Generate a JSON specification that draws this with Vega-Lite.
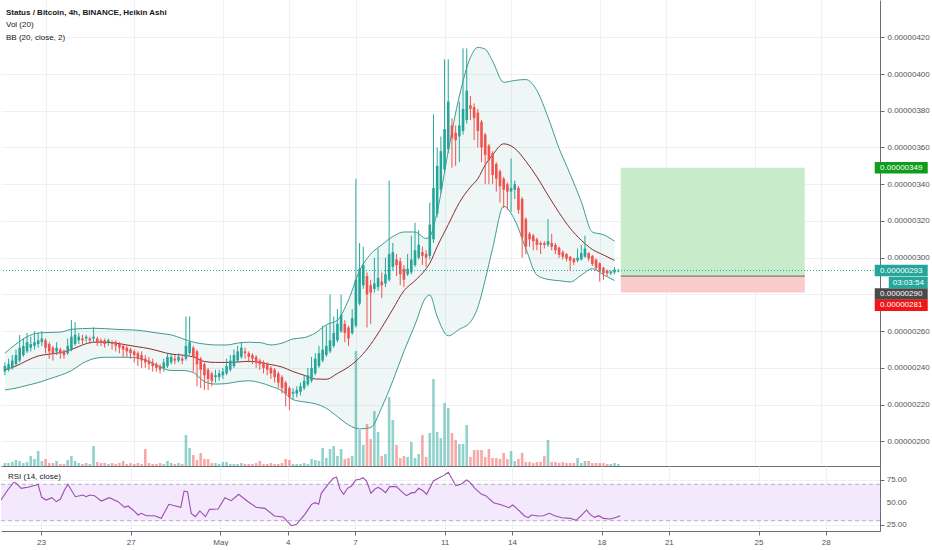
{
"$schema":"https://vega.github.io/schema/vega-lite/v6.json",
"padding":0,"spacing":0,"background":"white",
"config":{"view":{"stroke":null},"font":"Liberation Sans",
"axis":{"labelFont":"Liberation Sans","labelFontSize":8,"labelColor":"#50535e","gridColor":"#eef0f3","domainColor":"#6a6d78","tickColor":"#6a6d78","tickSize":4,"labelPadding":3,"labelOverlap":false},
"title":{"font":"Liberation Sans","subtitleFont":"Liberation Sans"}},
"datasets":{
"candles":[
{"i":1,"o":238,"h":243,"l":236,"c":241,"v":3},{"i":2,"o":239,"h":245,"l":238,"c":242,"v":3},{"i":3,"o":240,"h":247,"l":239,"c":244,"v":4},{"i":4,"o":242,"h":250,"l":241,"c":247,"v":6},{"i":5,"o":244,"h":258,"l":243,"c":251,"v":5},{"i":6,"o":247,"h":256,"l":246,"c":252,"v":3},{"i":7,"o":249,"h":259,"l":248,"c":254,"v":4},{"i":8,"o":251,"h":257,"l":249,"c":253,"v":10},{"i":9,"o":252,"h":260,"l":250,"c":254,"v":7},{"i":10,"o":253,"h":259,"l":251,"c":255,"v":15},
{"i":11,"o":254,"h":260,"l":252,"c":256,"v":5},{"i":12,"o":255,"h":256,"l":248,"c":251,"v":7},{"i":13,"o":253,"h":254,"l":245,"c":249,"v":3},{"i":14,"o":251,"h":252,"l":244,"c":248,"v":3},{"i":15,"o":249,"h":254,"l":247,"c":251,"v":5},{"i":16,"o":250,"h":251,"l":245,"c":248,"v":2},{"i":17,"o":249,"h":250,"l":245,"c":247,"v":2},{"i":18,"o":248,"h":256,"l":247,"c":252,"v":6},{"i":19,"o":250,"h":266,"l":249,"c":257,"v":10},{"i":20,"o":253,"h":265,"l":252,"c":258,"v":5},
{"i":21,"o":255,"h":259,"l":253,"c":257,"v":3},{"i":22,"o":256,"h":258,"l":253,"c":255,"v":2},{"i":23,"o":256,"h":258,"l":254,"c":257,"v":3},{"i":24,"o":256,"h":257,"l":253,"c":255,"v":2},{"i":25,"o":256,"h":262,"l":254,"c":257,"v":20},{"i":26,"o":256,"h":257,"l":252,"c":254,"v":4},{"i":27,"o":255,"h":256,"l":252,"c":254,"v":3},{"i":28,"o":255,"h":256,"l":251,"c":253,"v":3},{"i":29,"o":254,"h":256,"l":252,"c":255,"v":2},{"i":30,"o":254,"h":255,"l":250,"c":253,"v":3},
{"i":31,"o":254,"h":255,"l":249,"c":252,"v":2},{"i":32,"o":253,"h":254,"l":248,"c":251,"v":3},{"i":33,"o":252,"h":253,"l":246,"c":250,"v":5},{"i":34,"o":251,"h":252,"l":246,"c":249,"v":2},{"i":35,"o":250,"h":251,"l":245,"c":248,"v":3},{"i":36,"o":249,"h":250,"l":243,"c":247,"v":2},{"i":37,"o":248,"h":249,"l":241,"c":245,"v":3},{"i":38,"o":247,"h":249,"l":240,"c":244,"v":2},{"i":39,"o":245,"h":247,"l":240,"c":243,"v":17},{"i":40,"o":244,"h":246,"l":239,"c":242,"v":3},
{"i":41,"o":243,"h":245,"l":238,"c":241,"v":2},{"i":42,"o":242,"h":243,"l":238,"c":240,"v":2},{"i":43,"o":241,"h":242,"l":237,"c":239,"v":3},{"i":44,"o":240,"h":245,"l":238,"c":243,"v":2},{"i":45,"o":241,"h":248,"l":240,"c":246,"v":5},{"i":46,"o":243,"h":248,"l":242,"c":246,"v":3},{"i":47,"o":245,"h":247,"l":242,"c":244,"v":2},{"i":48,"o":244,"h":248,"l":243,"c":246,"v":3},{"i":49,"o":245,"h":247,"l":242,"c":244,"v":2},{"i":50,"o":245,"h":268,"l":244,"c":252,"v":31},
{"i":51,"o":248,"h":268,"l":247,"c":254,"v":18},{"i":52,"o":251,"h":252,"l":238,"c":246,"v":11},{"i":53,"o":249,"h":250,"l":230,"c":242,"v":6},{"i":54,"o":245,"h":246,"l":229,"c":239,"v":13},{"i":55,"o":242,"h":243,"l":228,"c":236,"v":7},{"i":56,"o":239,"h":240,"l":228,"c":234,"v":7},{"i":57,"o":237,"h":238,"l":230,"c":233,"v":3},{"i":58,"o":235,"h":239,"l":232,"c":236,"v":3},{"i":59,"o":235,"h":239,"l":233,"c":237,"v":2},{"i":60,"o":236,"h":240,"l":234,"c":238,"v":4},
{"i":61,"o":237,"h":245,"l":236,"c":241,"v":4},{"i":62,"o":239,"h":247,"l":238,"c":244,"v":2},{"i":63,"o":241,"h":250,"l":240,"c":247,"v":2},{"i":64,"o":244,"h":252,"l":243,"c":249,"v":2},{"i":65,"o":246,"h":254,"l":245,"c":251,"v":3},{"i":66,"o":249,"h":251,"l":245,"c":248,"v":2},{"i":67,"o":248,"h":249,"l":243,"c":246,"v":2},{"i":68,"o":247,"h":248,"l":242,"c":245,"v":2},{"i":69,"o":246,"h":247,"l":240,"c":243,"v":3},{"i":70,"o":244,"h":245,"l":239,"c":242,"v":5},
{"i":71,"o":243,"h":244,"l":237,"c":240,"v":2},{"i":72,"o":242,"h":243,"l":236,"c":239,"v":2},{"i":73,"o":240,"h":241,"l":234,"c":237,"v":3},{"i":74,"o":239,"h":240,"l":232,"c":235,"v":2},{"i":75,"o":237,"h":238,"l":229,"c":232,"v":2},{"i":76,"o":235,"h":236,"l":226,"c":229,"v":3},{"i":77,"o":232,"h":233,"l":219,"c":226,"v":7},{"i":78,"o":229,"h":230,"l":217,"c":224,"v":6},{"i":79,"o":226,"h":229,"l":223,"c":227,"v":2},{"i":80,"o":226,"h":230,"l":224,"c":228,"v":2},
{"i":81,"o":227,"h":232,"l":225,"c":230,"v":2},{"i":82,"o":229,"h":236,"l":228,"c":233,"v":3},{"i":83,"o":231,"h":240,"l":230,"c":236,"v":2},{"i":84,"o":233,"h":246,"l":232,"c":240,"v":7},{"i":85,"o":237,"h":248,"l":236,"c":245,"v":6},{"i":86,"o":241,"h":252,"l":240,"c":248,"v":5},{"i":87,"o":244,"h":263,"l":243,"c":250,"v":18},{"i":88,"o":247,"h":263,"l":246,"c":252,"v":8},{"i":89,"o":249,"h":280,"l":248,"c":255,"v":17},{"i":90,"o":252,"h":268,"l":251,"c":259,"v":20},
{"i":91,"o":255,"h":272,"l":254,"c":264,"v":10},{"i":92,"o":260,"h":280,"l":259,"c":269,"v":17},{"i":93,"o":264,"h":266,"l":254,"c":259,"v":7},{"i":94,"o":262,"h":263,"l":252,"c":256,"v":8},{"i":95,"o":259,"h":272,"l":258,"c":267,"v":10},{"i":96,"o":263,"h":343,"l":262,"c":288,"v":115},{"i":97,"o":275,"h":308,"l":274,"c":294,"v":36},{"i":98,"o":285,"h":306,"l":283,"c":296,"v":21},{"i":99,"o":290,"h":292,"l":262,"c":280,"v":42},{"i":100,"o":285,"h":288,"l":264,"c":281,"v":27},
{"i":101,"o":283,"h":300,"l":281,"c":286,"v":55},{"i":102,"o":284,"h":305,"l":282,"c":289,"v":34},{"i":103,"o":287,"h":292,"l":278,"c":285,"v":10},{"i":104,"o":286,"h":300,"l":284,"c":291,"v":12},{"i":105,"o":288,"h":342,"l":287,"c":302,"v":69},{"i":106,"o":295,"h":308,"l":293,"c":303,"v":46},{"i":107,"o":299,"h":302,"l":290,"c":296,"v":21},{"i":108,"o":298,"h":300,"l":285,"c":291,"v":8},{"i":109,"o":294,"h":296,"l":284,"c":288,"v":10},{"i":110,"o":291,"h":302,"l":290,"c":294,"v":9},
{"i":111,"o":292,"h":312,"l":291,"c":299,"v":24},{"i":112,"o":296,"h":319,"l":295,"c":304,"v":8},{"i":113,"o":300,"h":315,"l":299,"c":307,"v":12},{"i":114,"o":303,"h":306,"l":296,"c":301,"v":31},{"i":115,"o":302,"h":304,"l":295,"c":300,"v":9},{"i":116,"o":301,"h":330,"l":299,"c":318,"v":33},{"i":117,"o":310,"h":378,"l":308,"c":338,"v":87},{"i":118,"o":324,"h":360,"l":322,"c":350,"v":34},{"i":119,"o":337,"h":366,"l":335,"c":358,"v":28},{"i":120,"o":348,"h":408,"l":346,"c":370,"v":63},
{"i":121,"o":359,"h":408,"l":357,"c":385,"v":58},{"i":122,"o":372,"h":376,"l":349,"c":365,"v":33},{"i":123,"o":368,"h":372,"l":350,"c":364,"v":26},{"i":124,"o":366,"h":385,"l":352,"c":372,"v":22},{"i":125,"o":369,"h":414,"l":367,"c":381,"v":22},{"i":126,"o":375,"h":414,"l":373,"c":391,"v":41},{"i":127,"o":383,"h":388,"l":375,"c":381,"v":9},{"i":128,"o":382,"h":384,"l":364,"c":376,"v":16},{"i":129,"o":379,"h":381,"l":360,"c":369,"v":16},{"i":130,"o":374,"h":375,"l":352,"c":360,"v":16},
{"i":131,"o":367,"h":368,"l":340,"c":356,"v":9},{"i":132,"o":361,"h":362,"l":340,"c":353,"v":17},{"i":133,"o":357,"h":358,"l":340,"c":345,"v":8},{"i":134,"o":351,"h":352,"l":336,"c":343,"v":8},{"i":135,"o":347,"h":348,"l":330,"c":339,"v":7},{"i":136,"o":343,"h":344,"l":327,"c":337,"v":13},{"i":137,"o":340,"h":341,"l":326,"c":336,"v":7},{"i":138,"o":336,"h":354,"l":325,"c":338,"v":15},{"i":139,"o":337,"h":342,"l":332,"c":340,"v":5},{"i":140,"o":338,"h":339,"l":324,"c":326,"v":7},
{"i":141,"o":332,"h":333,"l":300,"c":311,"v":13},{"i":142,"o":321,"h":322,"l":302,"c":306,"v":4},{"i":143,"o":313,"h":314,"l":306,"c":310,"v":4},{"i":144,"o":312,"h":313,"l":304,"c":309,"v":3},{"i":145,"o":310,"h":311,"l":304,"c":307,"v":4},{"i":146,"o":308,"h":309,"l":302,"c":307,"v":4},{"i":147,"o":308,"h":309,"l":305,"c":307,"v":10},{"i":148,"o":307,"h":321,"l":306,"c":309,"v":26},{"i":149,"o":308,"h":313,"l":304,"c":306,"v":4},{"i":150,"o":307,"h":308,"l":302,"c":304,"v":4},
{"i":151,"o":305.5,"h":306,"l":300,"c":301.5,"v":3},{"i":152,"o":303,"h":304,"l":299,"c":300.5,"v":4},{"i":153,"o":302,"h":302.5,"l":298,"c":299.5,"v":3},{"i":154,"o":300.5,"h":301,"l":293,"c":298.5,"v":3},{"i":155,"o":299.5,"h":300,"l":296,"c":297.5,"v":3},{"i":156,"o":298.5,"h":305,"l":297.5,"c":300,"v":8},{"i":157,"o":299,"h":307,"l":298.5,"c":302.5,"v":3},{"i":158,"o":300.5,"h":312,"l":300,"c":305,"v":5},{"i":159,"o":302.5,"h":303,"l":298,"c":299.5,"v":5},{"i":160,"o":301,"h":301.5,"l":295.5,"c":296.5,"v":3},
{"i":161,"o":299,"h":299.5,"l":293,"c":294.5,"v":3},{"i":162,"o":297,"h":297.5,"l":287,"c":292.5,"v":3},{"i":163,"o":294.5,"h":295,"l":288,"c":291.5,"v":3},{"i":164,"o":293,"h":293.5,"l":290,"c":291.5,"v":2},{"i":165,"o":291.5,"h":293,"l":290.5,"c":292.5,"v":2},{"i":166,"o":292,"h":295,"l":291,"c":293.5,"v":3},{"i":167,"o":292.5,"h":294,"l":292,"c":293,"v":2}
],
"bb":[
{"i":1,"u":248,"m":239,"b":228},{"i":4,"u":253,"m":241,"b":229},{"i":7,"u":257,"m":244,"b":230.5},{"i":10,"u":259,"m":246.5,"b":232},{"i":13,"u":259.3,"m":247.5,"b":234},{"i":16,"u":259.5,"m":248.3,"b":236},{"i":19,"u":261,"m":250,"b":238.5},{"i":22,"u":261.4,"m":252.5,"b":242.5},{"i":25,"u":261.6,"m":254,"b":245},{"i":28,"u":261.4,"m":254,"b":245.8},
{"i":31,"u":261,"m":253.5,"b":245.8},{"i":34,"u":260.8,"m":252.5,"b":245.8},{"i":37,"u":260.5,"m":251.5,"b":245.3},{"i":40,"u":259.7,"m":250.5,"b":243.5},{"i":43,"u":258.8,"m":249,"b":240.5},{"i":46,"u":258,"m":247.5,"b":238.6},{"i":49,"u":256,"m":247,"b":238.6},{"i":52,"u":254,"m":246,"b":237.5},{"i":55,"u":253,"m":243.5,"b":232.5},{"i":58,"u":252.5,"m":243,"b":231.2},
{"i":61,"u":252.5,"m":243,"b":231.5},{"i":64,"u":253.5,"m":243.2,"b":232.5},{"i":67,"u":254,"m":243.6,"b":233},{"i":70,"u":253.8,"m":243,"b":232},{"i":73,"u":252.5,"m":241.8,"b":230},{"i":76,"u":253.5,"m":240.5,"b":227.5},{"i":79,"u":255.8,"m":238,"b":222.7},{"i":82,"u":256.5,"m":236,"b":221.5},{"i":85,"u":259,"m":234,"b":220.5},{"i":88,"u":263.5,"m":233.8,"b":218},
{"i":91,"u":266,"m":237,"b":213.5},{"i":94,"u":277,"m":240.5,"b":209},{"i":97,"u":293,"m":245.6,"b":206.8},{"i":100,"u":302,"m":252.8,"b":207.5},{"i":103,"u":307,"m":262,"b":218.5},{"i":106,"u":311.5,"m":272,"b":233},{"i":109,"u":314,"m":282,"b":249},{"i":112,"u":314,"m":287.5,"b":263.5},{"i":115,"u":310.5,"m":294,"b":278.5},{"i":116,"u":311.5,"m":297,"b":279.7},
{"i":118,"u":325,"m":306,"b":268},{"i":121,"u":358,"m":318,"b":257.5},{"i":124,"u":388,"m":330,"b":261},{"i":127,"u":409,"m":338.5,"b":265},{"i":129,"u":414.5,"m":343,"b":273},{"i":131,"u":413.5,"m":350.5,"b":288},{"i":133,"u":407,"m":356,"b":305},{"i":136,"u":395.5,"m":362,"b":328},{"i":139,"u":396.5,"m":359.5,"b":320.5},{"i":142,"u":397,"m":352.5,"b":305},
{"i":145,"u":391,"m":344,"b":290.5},{"i":148,"u":376.5,"m":334,"b":288.2},{"i":151,"u":359.5,"m":324.5,"b":287.5},{"i":154,"u":345.5,"m":316,"b":286.8},{"i":157,"u":330.5,"m":309.5,"b":290.5},{"i":160,"u":314,"m":304.5,"b":294},{"i":163,"u":312.5,"m":301.5,"b":290.7},{"i":166,"u":309,"m":298.5,"b":287.6}
],
"rsi":[
{"i":1.3,"r":52.7},{"i":3.1,"r":63.7},{"i":4.7,"r":72.2},{"i":5.4,"r":71},{"i":6.7,"r":65.6},{"i":8.5,"r":66.7},{"i":10.7,"r":69.2},{"i":11.2,"r":70},{"i":12.2,"r":55.7},{"i":13.4,"r":52.7},{"i":14.9,"r":55.3},{"i":16.1,"r":50.9},{"i":17.2,"r":53.8},{"i":18.3,"r":63.7},{"i":19.2,"r":70},{"i":20.1,"r":63.7},{"i":21.2,"r":56.4},{"i":23.2,"r":58.2},{"i":24.1,"r":56.4},{"i":25,"r":58.2},
{"i":26.3,"r":57.5},{"i":28.1,"r":51.6},{"i":30.3,"r":55.3},{"i":32.6,"r":50.9},{"i":34.4,"r":44.7},{"i":35.3,"r":46.2},{"i":36.6,"r":41.8},{"i":38,"r":36.3},{"i":38.8,"r":38.1},{"i":40.2,"r":35.5},{"i":42.4,"r":35.5},{"i":44.2,"r":32.6},{"i":46.2,"r":48},{"i":47.8,"r":46.5},{"i":49.4,"r":44.7},{"i":50.3,"r":62.6},{"i":51.2,"r":61.9},{"i":52.2,"r":38.1},{"i":53.3,"r":34.4},{"i":54.5,"r":40.7},
{"i":56,"r":34.4},{"i":57.1,"r":42.5},{"i":59.4,"r":42.9},{"i":61.2,"r":55.3},{"i":62.9,"r":52},{"i":64.9,"r":59},{"i":67.4,"r":50.9},{"i":69.6,"r":44.7},{"i":71.9,"r":43.6},{"i":74.5,"r":35.2},{"i":76.8,"r":34.1},{"i":79,"r":24.5},{"i":80.4,"r":26},{"i":82.6,"r":37},{"i":84.4,"r":48},{"i":85.4,"r":49.8},{"i":86.3,"r":48},{"i":87,"r":60.1},{"i":88.8,"r":70},{"i":90.2,"r":76.6},
{"i":91.1,"r":77.7},{"i":92,"r":64.5},{"i":93,"r":59},{"i":94,"r":65.6},{"i":95.1,"r":68.1},{"i":96.2,"r":74.7},{"i":97.3,"r":75.5},{"i":98.2,"r":77.3},{"i":99.1,"r":73.6},{"i":100.3,"r":60.1},{"i":101.3,"r":64.5},{"i":102.2,"r":66.7},{"i":103.1,"r":64.5},{"i":104.2,"r":60.8},{"i":105.3,"r":67.4},{"i":107.1,"r":67.4},{"i":108.5,"r":61.9},{"i":109.8,"r":57.5},{"i":111.2,"r":60.8},{"i":112,"r":60.8},
{"i":113.1,"r":65.6},{"i":114.3,"r":62.6},{"i":115.2,"r":59},{"i":117,"r":73.6},{"i":118.3,"r":76.6},{"i":119.7,"r":79.5},{"i":121,"r":83.2},{"i":123,"r":68.5},{"i":124.4,"r":70},{"i":125.9,"r":74.7},{"i":126.8,"r":72.2},{"i":128.1,"r":65.6},{"i":129.9,"r":59},{"i":131,"r":57.5},{"i":133.1,"r":49.8},{"i":135.3,"r":47.3},{"i":137.2,"r":44.3},{"i":138.2,"r":47.3},{"i":139.3,"r":43.6},{"i":141.4,"r":35.2},
{"i":142.4,"r":33.3},{"i":143.3,"r":36.3},{"i":144.9,"r":35.2},{"i":146.4,"r":35.5},{"i":148,"r":38.1},{"i":149.5,"r":35.5},{"i":151.3,"r":33.3},{"i":153.6,"r":32.6},{"i":155.2,"r":30.4},{"i":156.7,"r":36.3},{"i":158,"r":41.8},{"i":158.9,"r":37},{"i":160.1,"r":33.7},{"i":161.2,"r":35.5},{"i":162.5,"r":32.6},{"i":164.3,"r":31.9},{"i":165.6,"r":33.3},{"i":167,"r":35.5}
],
"pos":[{"kind":"profit","i":167.7,"i2":217.5,"lo":290,"hi":349},{"kind":"loss","i":167.7,"i2":217.5,"lo":281,"hi":290}],
"tags":[{"tag":"target","p":349,"label":"0.00000349"},{"tag":"last","p":293,"label":"0.00000293"},{"tag":"timer","p":293,"label":"03:03:54"},{"tag":"entry","p":290,"label":"0.00000290"},{"tag":"stop","p":281,"label":"0.00000281"}],
"levels":[{"lo":30,"hi":70}],
"rsiTicks":[{"r":25},{"r":50},{"r":75}]
},
"vconcat":[
{"width":879,"height":466,
"title":{"text":"Status / Bitcoin, 4h, BINANCE, Heikin Ashi","subtitle":["Vol (20)","BB (20, close, 2)"],"anchor":"start","frame":"group","offset":-42,"dx":5,"fontSize":8,"fontWeight":"bold","color":"#131722","subtitleFontSize":8,"subtitleColor":"#131722","subtitleLineHeight":13,"subtitlePadding":4},
"layer":[
{"data":{"name":"candles"},"mark":{"type":"bar","size":2.6,"opacity":0.5,"clip":true},
"encoding":{"x":{"field":"i","type":"quantitative","scale":{"domain":[1.3,236.5],"nice":false,"zero":false},"axis":{"orient":"bottom","values":[12,36,60,78,96,120,138,162,180,204,222],"labels":false,"ticks":false,"domain":true,"grid":true,"title":null}},
"y":{"field":"v","type":"quantitative","scale":{"domain":[0,466],"nice":false},"axis":null},
"color":{"condition":{"test":"datum.c >= datum.o","value":"#26a69a"},"value":"#ef5350"}}},
{"layer":[
{"data":{"name":"bb"},"mark":{"type":"area","interpolate":"monotone","color":"#1f8f85","opacity":0.07,"clip":true},
"encoding":{"x":{"field":"i","type":"quantitative","scale":{"domain":[1.3,236.5],"nice":false,"zero":false}},
"y":{"field":"u","type":"quantitative","scale":{"domain":[186.6,440.3],"nice":false,"zero":false},"axis":{"orient":"right","values":[200,220,240,260,280,300,320,340,360,380,400,420],"labelExpr":"datum.value == 280 ? '' : format(datum.value/100000000, '.8f')","grid":true,"domain":true,"title":null}},
"y2":{"field":"b"}}},
{"data":{"name":"pos"},"mark":{"type":"rect"},
"encoding":{"x":{"field":"i","type":"quantitative","scale":{"domain":[1.3,236.5],"nice":false,"zero":false}},"x2":{"field":"i2"},
"y":{"field":"lo","type":"quantitative","scale":{"domain":[186.6,440.3],"nice":false,"zero":false}},"y2":{"field":"hi"},
"color":{"condition":{"test":"datum.kind == 'profit'","value":"#c8ebc9"},"value":"#fbcacb"}}},
{"data":{"name":"pos"},"transform":[{"filter":"datum.kind == 'profit'"}],"mark":{"type":"rule","color":"#787b86","strokeWidth":1.2},
"encoding":{"x":{"field":"i","type":"quantitative","scale":{"domain":[1.3,236.5],"nice":false,"zero":false}},"x2":{"field":"i2"},
"y":{"field":"lo","type":"quantitative","scale":{"domain":[186.6,440.3],"nice":false,"zero":false}}}},
{"data":{"name":"bb"},"mark":{"type":"line","interpolate":"monotone","color":"#3d9c8f","strokeWidth":1,"clip":true},
"encoding":{"x":{"field":"i","type":"quantitative","scale":{"domain":[1.3,236.5],"nice":false,"zero":false}},"y":{"field":"u","type":"quantitative","scale":{"domain":[186.6,440.3],"nice":false,"zero":false}}}},
{"data":{"name":"bb"},"mark":{"type":"line","interpolate":"monotone","color":"#3d9c8f","strokeWidth":1,"clip":true},
"encoding":{"x":{"field":"i","type":"quantitative","scale":{"domain":[1.3,236.5],"nice":false,"zero":false}},"y":{"field":"b","type":"quantitative","scale":{"domain":[186.6,440.3],"nice":false,"zero":false}}}},
{"data":{"name":"bb"},"mark":{"type":"line","interpolate":"monotone","color":"#8d2b2b","strokeWidth":1,"clip":true},
"encoding":{"x":{"field":"i","type":"quantitative","scale":{"domain":[1.3,236.5],"nice":false,"zero":false}},"y":{"field":"m","type":"quantitative","scale":{"domain":[186.6,440.3],"nice":false,"zero":false}}}},
{"data":{"name":"candles"},"mark":{"type":"rule","strokeWidth":1,"clip":true},
"encoding":{"x":{"field":"i","type":"quantitative","scale":{"domain":[1.3,236.5],"nice":false,"zero":false}},
"y":{"field":"l","type":"quantitative","scale":{"domain":[186.6,440.3],"nice":false,"zero":false}},"y2":{"field":"h"},
"color":{"condition":{"test":"datum.c >= datum.o","value":"#26a69a"},"value":"#ef5350"}}},
{"data":{"name":"candles"},"mark":{"type":"bar","size":2.6,"minBandSize":1,"clip":true},
"encoding":{"x":{"field":"i","type":"quantitative","scale":{"domain":[1.3,236.5],"nice":false,"zero":false}},
"y":{"field":"o","type":"quantitative","scale":{"domain":[186.6,440.3],"nice":false,"zero":false}},"y2":{"field":"c"},
"color":{"condition":{"test":"datum.c >= datum.o","value":"#26a69a"},"value":"#ef5350"}}},
{"data":{"name":"tags"},"transform":[{"filter":"datum.tag == 'last'"}],"mark":{"type":"rule","color":"#26a69a","strokeDash":[1,2],"strokeWidth":1},
"encoding":{"y":{"field":"p","type":"quantitative","scale":{"domain":[186.6,440.3],"nice":false,"zero":false}}}},
{"data":{"name":"tags"},"transform":[{"filter":"datum.tag != 'timer'"}],"mark":{"type":"tick","orient":"horizontal","size":53,"thickness":11.5,"opacity":1,"yOffset":{"expr":"datum.tag == 'entry' ? 18 : datum.tag == 'stop' ? 12.6 : 0"}},
"encoding":{"x":{"datum":243.6,"type":"quantitative"},"y":{"field":"p","type":"quantitative","scale":{"domain":[186.6,440.3],"nice":false,"zero":false}},
"color":{"condition":[{"test":"datum.tag == 'target'","value":"#0f9d1b"},{"test":"datum.tag == 'last'","value":"#26a69a"},{"test":"datum.tag == 'entry'","value":"#4a4a4a"}],"value":"#f21515"}}},
{"data":{"name":"tags"},"transform":[{"filter":"datum.tag != 'timer'"}],"mark":{"type":"text","color":"white","fontSize":8,"align":"center","baseline":"middle","yOffset":{"expr":"datum.tag == 'entry' ? 18 : datum.tag == 'stop' ? 12.6 : 0"}},
"encoding":{"x":{"datum":243.6,"type":"quantitative"},"y":{"field":"p","type":"quantitative","scale":{"domain":[186.6,440.3],"nice":false,"zero":false}},"text":{"field":"label"}}},
{"data":{"name":"tags"},"transform":[{"filter":"datum.tag == 'timer'"}],"mark":{"type":"tick","orient":"horizontal","size":39,"thickness":11.5,"opacity":1,"yOffset":12,"color":"#26a69a"},
"encoding":{"x":{"datum":245.5,"type":"quantitative"},"y":{"field":"p","type":"quantitative","scale":{"domain":[186.6,440.3],"nice":false,"zero":false}}}},
{"data":{"name":"tags"},"transform":[{"filter":"datum.tag == 'timer'"}],"mark":{"type":"text","color":"white","fontSize":8,"align":"center","baseline":"middle","yOffset":12},
"encoding":{"x":{"datum":245.5,"type":"quantitative"},"y":{"field":"p","type":"quantitative","scale":{"domain":[186.6,440.3],"nice":false,"zero":false}},"text":{"field":"label"}}}
]}
],
"resolve":{"scale":{"y":"independent"}}
},
{"width":879,"height":65,
"title":{"text":"RSI (14, close)","anchor":"start","frame":"group","offset":-15,"dx":7,"fontSize":8,"fontWeight":"normal","color":"#131722"},
"layer":[
{"data":{"name":"levels"},"mark":{"type":"rect","color":"#f3e8fc"},
"encoding":{"y":{"field":"lo","type":"quantitative","scale":{"domain":[18.7,90.1],"nice":false,"zero":false}},"y2":{"field":"hi"}}},
{"data":{"name":"levels"},"mark":{"type":"rule","color":"#b9a9d1","strokeDash":[4,3],"strokeWidth":1},
"encoding":{"y":{"field":"lo","type":"quantitative","scale":{"domain":[18.7,90.1],"nice":false,"zero":false}}}},
{"data":{"name":"levels"},"mark":{"type":"rule","color":"#b9a9d1","strokeDash":[4,3],"strokeWidth":1},
"encoding":{"y":{"field":"hi","type":"quantitative","scale":{"domain":[18.7,90.1],"nice":false,"zero":false}}}},
{"data":{"name":"rsi"},"mark":{"type":"line","color":"#9a4eae","strokeWidth":1.1,"clip":true},
"encoding":{"x":{"field":"i","type":"quantitative","scale":{"domain":[1.3,236.5],"nice":false,"zero":false},"axis":{"orient":"bottom","values":[12,36,60,78,96,120,138,162,180,204,222],"labelExpr":"datum.value < 60 ? '' + (21 + datum.value/6) : (datum.value == 60 ? 'May' : '' + (datum.value/6 - 9))","grid":true,"domain":true,"ticks":true,"title":null}},
"y":{"field":"r","type":"quantitative","scale":{"domain":[18.7,90.1],"nice":false,"zero":false},"axis":{"orient":"right","values":[25,50,75],"labels":false,"grid":true,"domain":true,"title":null}}}},
{"data":{"name":"rsiTicks"},"mark":{"type":"text","align":"left","baseline":"middle","fontSize":8,"color":"#50535e"},
"encoding":{"x":{"datum":238.3,"type":"quantitative"},"y":{"field":"r","type":"quantitative","scale":{"domain":[18.7,90.1],"nice":false,"zero":false}},"text":{"field":"r","type":"quantitative","format":".2f"}}}
]}
]
}
